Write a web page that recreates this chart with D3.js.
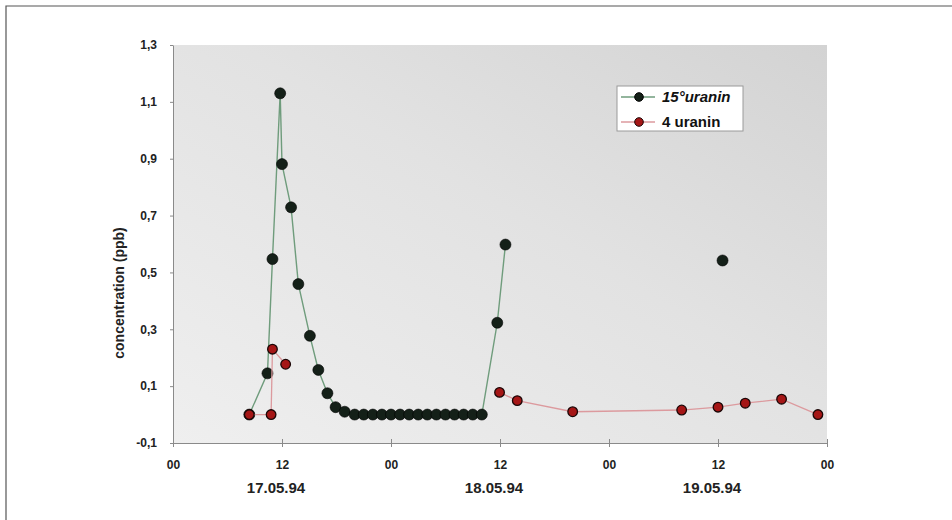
<!DOCTYPE html>
<html>
<head>
<meta charset="utf-8">
<script src="https://cdn.jsdelivr.net/npm/d3@7"></script>
<style>
  body { margin: 0; background: #fff; }
  svg { display: block; }
  .axis path, .axis line { stroke: #8a8a8a; }
  .axis text { font-family: "Liberation Sans Narrow", "Liberation Sans", Arial, sans-serif; font-weight: bold; fill: #222; }
</style>
</head>
<body>
<div id="chart"></div>
<script>
// hours since 17.05.94 00:00
const hours15 = [8.4, 10.4, 10.95, 11.8, 12.0, 13.0, 13.8, 15.07, 16.0, 17.0, 17.9, 18.9,
  20, 21, 22, 23, 24, 25, 26, 27, 28, 29, 30, 31, 32, 33, 34, 35.7, 36.6, 48, 60.5];
const conc15 = [0, 0.145, 0.547, 1.13, 0.881, 0.729, 0.459, 0.277, 0.157, 0.075, 0.026, 0.01,
  0, 0, 0, 0, 0, 0, 0, 0, 0, 0, 0, 0, 0, 0, 0, 0.323, 0.598, null, 0.542];

const hours4 = [8.4, 10.8, 10.95, 12.4, 24, 35.95, 37.9, 44.0, 56.0, 60.0, 63.0, 67.0, 71.0];
const conc4 = [0, 0, 0.23, 0.177, null, 0.078, 0.049, 0.010, 0.016, 0.026, 0.040, 0.054, 0.0];

const yTicks = [-0.1, 0.1, 0.3, 0.5, 0.7, 0.9, 1.1, 1.3];
const xTicks = [0, 12, 24, 36, 48, 60, 72];
const xTickLabels = ["00", "12", "00", "12", "00", "12", "00"];
const dateHours = [12, 36, 60];
const dateLabels = ["17.05.94", "18.05.94", "19.05.94"];
const seriesNames = ["15°uranin", "4 uranin"];

const W = 952, H = 520;
const margin = { top: 45, right: 125, bottom: 77, left: 173 };
const width = W - margin.left - margin.right;
const height = H - margin.top - margin.bottom;

const root = d3.select("#chart").append("svg")
  .attr("width", W).attr("height", H);

// scan frame
root.append("path")
  .attr("d", `M6,${H} L6,6 L${W},6`)
  .attr("fill", "none").attr("stroke", "#555").attr("stroke-width", 1.2);

const defs = root.append("defs");
const grad = defs.append("linearGradient").attr("id", "bg")
  .attr("x1", 0).attr("y1", 1).attr("x2", 1).attr("y2", 0);
grad.append("stop").attr("offset", "0%").attr("stop-color", "#efefef");
grad.append("stop").attr("offset", "55%").attr("stop-color", "#e2e2e2");
grad.append("stop").attr("offset", "100%").attr("stop-color", "#d3d3d3");

const svg = root.append("g")
  .attr("transform", `translate(${margin.left},${margin.top})`);

const x = d3.scaleLinear().domain([0, 72]).range([0, width]);
const y = d3.scaleLinear().domain([-0.1, 1.3]).range([height, 0]);

svg.append("rect")
  .attr("width", width).attr("height", height)
  .attr("fill", "url(#bg)");

// axes
const xAxis = svg.append("g")
  .attr("class", "axis")
  .attr("transform", `translate(0,${height})`)
  .call(d3.axisBottom(x).tickValues(xTicks)
    .tickFormat((d, i) => xTickLabels[i]).tickSizeInner(4).tickSizeOuter(0).tickPadding(13));
xAxis.selectAll(".tick line").attr("y1", -4);
xAxis.selectAll("text").attr("font-size", 12);

const yAxis = svg.append("g")
  .attr("class", "axis")
  .call(d3.axisLeft(y).tickValues(yTicks)
    .tickFormat(d => d.toFixed(1).replace(".", ",")).tickSizeInner(3).tickSizeOuter(0).tickPadding(13));
yAxis.selectAll("text").attr("font-size", 12);

svg.selectAll(".date")
  .data(dateLabels)
  .enter().append("text")
  .attr("x", (d, i) => x(dateHours[i]) - 6)
  .attr("y", height + 50)
  .attr("text-anchor", "middle")
  .attr("font-family", "'Liberation Sans Narrow', 'Liberation Sans', Arial, sans-serif")
  .attr("font-weight", "bold")
  .attr("font-size", 15)
  .attr("fill", "#222")
  .text(d => d);

root.append("text")
  .attr("transform", `translate(124,293) rotate(-90)`)
  .attr("text-anchor", "middle")
  .attr("font-family", "'Liberation Sans', Arial, sans-serif")
  .attr("font-weight", "bold")
  .attr("font-size", 14)
  .attr("fill", "#222")
  .text("concentration (ppb)");

// series
const s15 = hours15.map((h, i) => ({ h, v: conc15[i] }));
const s4 = hours4.map((h, i) => ({ h, v: conc4[i] }));

const line = d3.line()
  .defined(d => d.v != null)
  .x(d => x(d.h))
  .y(d => y(d.v));

svg.append("path").datum(s15)
  .attr("fill", "none").attr("stroke", "#6f9c7c").attr("stroke-width", 1.4)
  .attr("d", line);

svg.selectAll(".p15")
  .data(s15.filter(d => d.v != null))
  .enter().append("circle")
  .attr("cx", d => x(d.h)).attr("cy", d => y(d.v))
  .attr("r", 5.5)
  .attr("fill", "#142018").attr("stroke", "#000").attr("stroke-width", 0.6);

svg.append("path").datum(s4)
  .attr("fill", "none").attr("stroke", "#dc9a9e").attr("stroke-width", 1.3)
  .attr("d", line);

svg.selectAll(".p4")
  .data(s4.filter(d => d.v != null))
  .enter().append("circle")
  .attr("cx", d => x(d.h)).attr("cy", d => y(d.v))
  .attr("r", 4.8)
  .attr("fill", "#a51616").attr("stroke", "#1a0606").attr("stroke-width", 1.3);

// legend
const lg = root.append("g").attr("transform", "translate(617,86)");
lg.append("rect").attr("width", 126).attr("height", 45)
  .attr("fill", "#fff").attr("stroke", "#9a9a9a").attr("stroke-width", 1);

const legendColors = [["#6f9c7c", "#142018", "#000"], ["#dc9a9e", "#a51616", "#1a0606"]];
seriesNames.forEach((name, i) => {
  const ly = 11 + i * 25;
  lg.append("line").attr("x1", 4).attr("x2", 38).attr("y1", ly).attr("y2", ly)
    .attr("stroke", legendColors[i][0]).attr("stroke-width", 1.3);
  lg.append("circle").attr("cx", 22).attr("cy", ly).attr("r", 4.3)
    .attr("fill", legendColors[i][1]).attr("stroke", legendColors[i][2]).attr("stroke-width", 1);
  lg.append("text").attr("x", 45).attr("y", ly + 5)
    .attr("font-family", "'Liberation Sans', Arial, sans-serif")
    .attr("font-weight", "bold")
    .attr("font-style", i === 0 ? "italic" : "normal")
    .attr("font-size", 15)
    .attr("fill", "#111")
    .text(name);
});
</script>
</body>
</html>
